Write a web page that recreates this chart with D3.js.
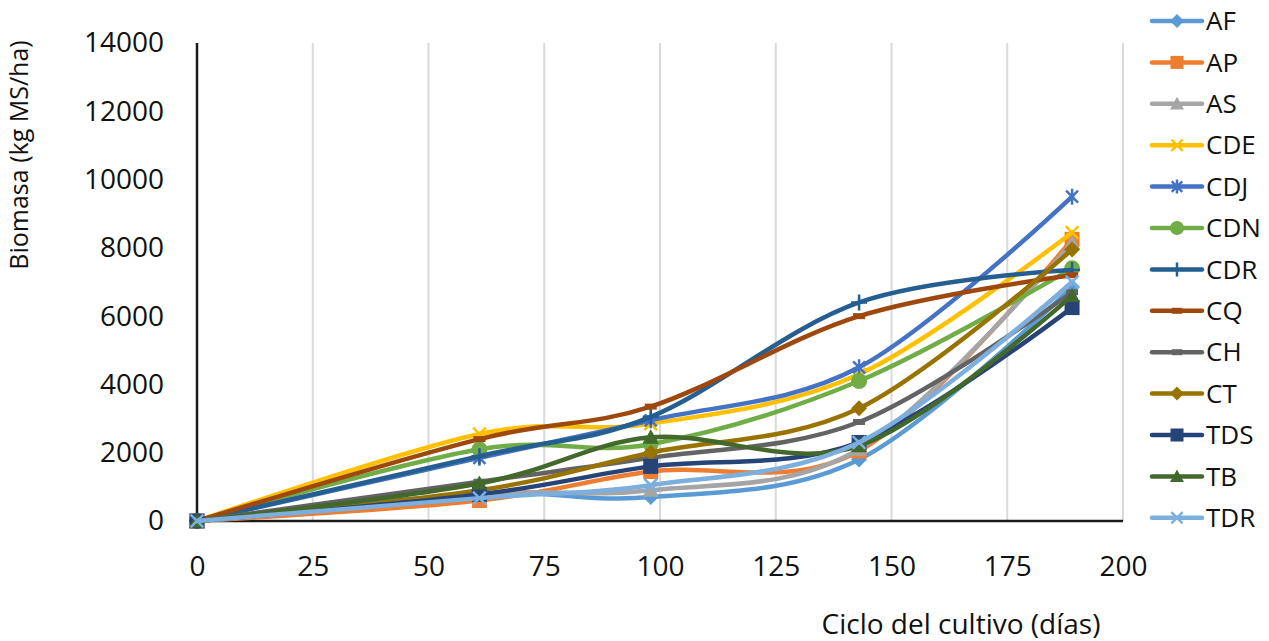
<!DOCTYPE html>
<html>
<head>
<meta charset="utf-8">
<script src="https://cdn.jsdelivr.net/npm/d3@7"></script>
<style>
  html, body { margin: 0; padding: 0; background: #fff; }
  svg { display: block; font-family: "Open Sans", "DejaVu Sans", sans-serif; }
</style>
</head>
<body>
<svg id="chart" width="1269" height="641"></svg>
<script>
// Sampling days of the crop cycle
const days = [0, 61, 98, 143, 189];

// Biomass (kg MS/ha) per treatment
const AF  = [0, 800, 700, 1800, 6850];
const AP  = [0, 600, 1450, 2050, 8250];
const AS  = [0, 800, 900, 2100, 8150];
const CDE = [0, 2550, 2850, 4300, 8450];
const CDJ = [0, 1850, 2950, 4500, 9500];
const CDN = [0, 2100, 2250, 4100, 7400];
const CDR = [0, 1900, 3050, 6400, 7350];
const CQ  = [0, 2400, 3350, 6000, 7200];
const CH  = [0, 1150, 1850, 2900, 6700];
const CT  = [0, 900, 2000, 3300, 7950];
const TDS = [0, 780, 1600, 2300, 6250];
const TB  = [0, 1100, 2450, 2200, 6600];
const TDR = [0, 670, 1050, 2300, 7000];

const seriesNames = ["AF", "AP", "AS", "CDE", "CDJ", "CDN", "CDR", "CQ", "CH", "CT", "TDS", "TB", "TDR"];
const seriesValues = [AF, AP, AS, CDE, CDJ, CDN, CDR, CQ, CH, CT, TDS, TB, TDR];
const seriesColors = ["#5B9BD5", "#ED7D31", "#A5A5A5", "#FFC000", "#4472C4", "#70AD47",
                      "#255E91", "#9E480E", "#636363", "#997300", "#264478", "#43682B", "#7CAFDD"];
const seriesMarkers = ["diamond", "square", "triangle", "x", "star", "circle",
                       "plus", "dash", "dash", "diamond", "square", "triangle", "x"];

const xTicks = [0, 25, 50, 75, 100, 125, 150, 175, 200];
const yTicks = [0, 2000, 4000, 6000, 8000, 10000, 12000, 14000];

const svg = d3.select("#chart");
const x = d3.scaleLinear().domain([0, 200]).range([197, 1123]);
const y = d3.scaleLinear().domain([0, 14000]).range([521, 43]);

// vertical gridlines
svg.append("g").selectAll("line")
  .data(xTicks.filter(d => d > 0))
  .join("line")
  .attr("x1", d => x(d)).attr("x2", d => x(d))
  .attr("y1", y(14000)).attr("y2", y(0))
  .attr("stroke", "#D9D9D9").attr("stroke-width", 2);

// axes
const yAxis = svg.append("g")
  .attr("transform", `translate(${x(0)},0)`)
  .call(d3.axisLeft(y).tickValues(yTicks).tickSize(0).tickPadding(33).tickFormat(d3.format("d")));
yAxis.select(".domain").remove();
yAxis.selectAll("text").attr("font-size", 28).attr("fill", "#111").attr("font-family", "Open Sans");

const xAxis = svg.append("g")
  .attr("transform", `translate(0,${y(0)})`)
  .call(d3.axisBottom(x).tickValues(xTicks).tickSize(0).tickPadding(35).tickFormat(d3.format("d")));
xAxis.select(".domain").remove();
xAxis.selectAll("text").attr("font-size", 28).attr("fill", "#111").attr("font-family", "Open Sans");

svg.append("line")
  .attr("x1", x(0)).attr("x2", x(0)).attr("y1", y(14000)).attr("y2", y(0))
  .attr("stroke", "#1a1a1a").attr("stroke-width", 2.5);
svg.append("line")
  .attr("x1", x(0)).attr("x2", x(200)).attr("y1", y(0)).attr("y2", y(0))
  .attr("stroke", "#1a1a1a").attr("stroke-width", 2.5);

// axis titles
svg.append("text")
  .attr("transform", `translate(28,${(25 + 285) / 2}) rotate(-90)`)
  .attr("text-anchor", "middle")
  .attr("font-size", 25).attr("fill", "#111")
  .text("Biomasa (kg MS/ha)");
svg.append("text")
  .attr("x", 961).attr("y", 634)
  .attr("text-anchor", "middle")
  .attr("font-size", 28).attr("fill", "#111")
  .text("Ciclo del cultivo (días)");

// marker drawing
function drawMarker(g, type, color, cx, cy, s) {
  const h = s / 2;
  switch (type) {
    case "diamond":
      g.append("path").attr("d", `M${cx},${cy - h}L${cx + h},${cy}L${cx},${cy + h}L${cx - h},${cy}Z`).attr("fill", color);
      break;
    case "square":
      g.append("rect").attr("x", cx - h + 0.5).attr("y", cy - h + 0.5).attr("width", s - 1).attr("height", s - 1).attr("fill", color);
      break;
    case "triangle":
      g.append("path").attr("d", `M${cx},${cy - h}L${cx + h},${cy + h * 0.8}L${cx - h},${cy + h * 0.8}Z`).attr("fill", color);
      break;
    case "circle":
      g.append("circle").attr("cx", cx).attr("cy", cy).attr("r", h).attr("fill", color);
      break;
    case "x":
      g.append("path").attr("d", `M${cx - h * 0.8},${cy - h * 0.8}L${cx + h * 0.8},${cy + h * 0.8}M${cx - h * 0.8},${cy + h * 0.8}L${cx + h * 0.8},${cy - h * 0.8}`)
        .attr("stroke", color).attr("stroke-width", 2.5).attr("fill", "none");
      break;
    case "star":
      g.append("path").attr("d", `M${cx - h * 0.75},${cy - h * 0.75}L${cx + h * 0.75},${cy + h * 0.75}M${cx - h * 0.75},${cy + h * 0.75}L${cx + h * 0.75},${cy - h * 0.75}M${cx},${cy - h}L${cx},${cy + h}`)
        .attr("stroke", color).attr("stroke-width", 2.5).attr("fill", "none");
      break;
    case "plus":
      g.append("path").attr("d", `M${cx},${cy - h}L${cx},${cy + h}M${cx - h},${cy}L${cx + h},${cy}`)
        .attr("stroke", color).attr("stroke-width", 2.5).attr("fill", "none");
      break;
    case "dash":
      g.append("rect").attr("x", cx - h * 0.75).attr("y", cy - 3).attr("width", h * 1.5).attr("height", 6).attr("fill", color);
      break;
  }
}

const line = d3.line()
  .x(d => x(d[0]))
  .y(d => y(d[1]))
  .curve(d3.curveCardinal.tension(0));

const plot = svg.append("g");
seriesNames.forEach((name, i) => {
  const pts = days.map((d, j) => [d, seriesValues[i][j]]);
  const g = plot.append("g");
  g.append("path")
    .attr("d", line(pts))
    .attr("fill", "none")
    .attr("stroke", seriesColors[i])
    .attr("stroke-width", 4.5)
    .attr("stroke-linecap", "round")
    .attr("stroke-linejoin", "round");
  pts.forEach(p => drawMarker(g, seriesMarkers[i], seriesColors[i], x(p[0]), y(p[1]), 16));
});

// legend
const legend = svg.append("g");
seriesNames.forEach((name, i) => {
  const ly = 21 + i * 41.4;
  const g = legend.append("g");
  g.append("line")
    .attr("x1", 1152).attr("x2", 1202).attr("y1", ly).attr("y2", ly)
    .attr("stroke", seriesColors[i]).attr("stroke-width", 4.5).attr("stroke-linecap", "round");
  drawMarker(g, seriesMarkers[i], seriesColors[i], 1177, ly, 14);
  g.append("text")
    .attr("x", 1206).attr("y", ly).attr("dy", "0.35em")
    .attr("font-size", 26).attr("fill", "#111")
    .text(name);
});
</script>
</body>
</html>
